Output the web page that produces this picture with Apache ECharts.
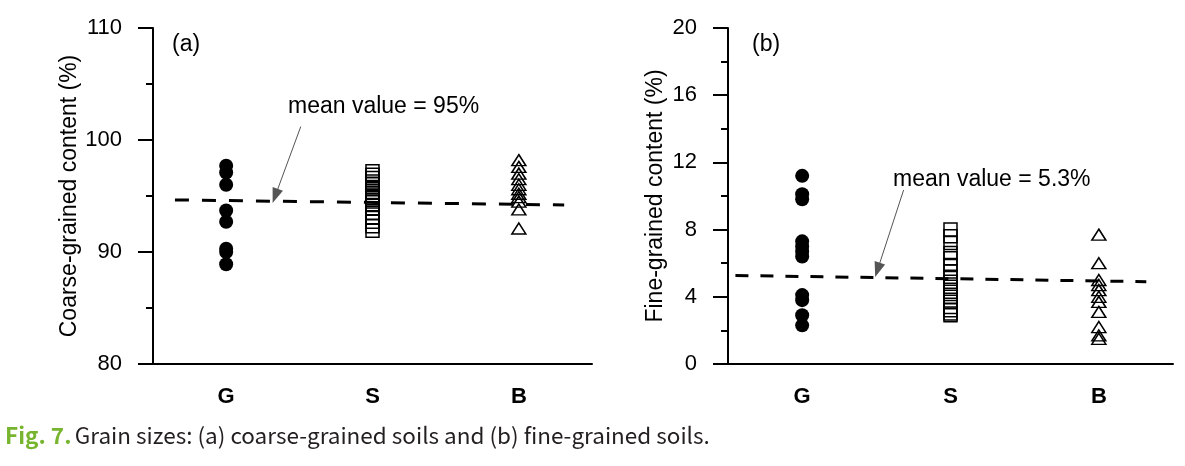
<!DOCTYPE html>
<html>
<head>
<meta charset="utf-8">
<script src="https://cdn.jsdelivr.net/npm/echarts@6/dist/echarts.min.js"></script>
<style>
html,body{margin:0;padding:0;background:#fff;}
#chart{width:1185px;height:466px;}
</style>
</head>
<body>
<div id="chart"></div>
<script>
// ---- data ----
const categories = ['G', 'S', 'B'];

// (a) coarse-grained content (%)
const coarseG = [97.7, 97.1, 96.0, 93.7, 92.7, 90.3, 90.0, 88.9];
const coarseS = [97.2, 96.9, 96.6, 96.3, 96.1, 95.8, 95.6, 95.3, 95.0, 94.8, 94.5, 94.2, 93.9, 93.5, 93.1, 92.7, 92.3, 91.9];
const coarseB = [98.2, 97.6, 97.0, 96.5, 96.0, 95.6, 95.2, 94.9, 94.5, 93.8, 92.1];
const coarseMeanLine = [[-0.35, 94.65], [2.31, 94.2]];
const coarseArrow = [[0.51, 101.2], [0.335, 95.0]];

// (b) fine-grained content (%)
const fineG = [11.2, 10.1, 9.8, 7.3, 7.0, 6.7, 6.4, 4.1, 3.8, 2.9, 2.3];
const fineS = [8.0, 7.6, 7.2, 6.6, 6.3, 5.9, 5.5, 5.2, 4.9, 4.6, 4.3, 4.0, 3.7, 3.4, 3.2, 3.0, 2.9];
const fineB = [7.7, 6.0, 5.0, 4.7, 4.4, 4.0, 3.7, 3.1, 2.2, 1.7, 1.5];
const fineMeanLine = [[-0.45, 5.27], [2.32, 4.9]];
const fineArrow = [[0.684, 10.36], [0.508, 5.6]];

const yTicksA = {min: 80, max: 110, interval: 10};
const yTicksB = {min: 0, max: 20, interval: 4};

// ---- chart ----
const FONT = 'Liberation Sans, Arial, sans-serif';
const CAPFONT = 'Noto Sans CJK KR, Noto Sans, sans-serif';
const chart = echarts.init(document.getElementById('chart'), null, {renderer: 'canvas'});

function catAxis(gridIndex) {
  return {
    type: 'category', gridIndex, data: categories, boundaryGap: true,
    axisLine: {onZero: false, lineStyle: {color: '#000', width: 2}},
    axisTick: {alignWithLabel: true, length: 7, lineStyle: {color: '#000', width: 2}},
    axisLabel: {color: '#000', fontFamily: FONT, fontSize: 22, fontWeight: 'bold', margin: 22},
    splitLine: {show: false}
  };
}
function hiddenX(gridIndex) {
  return {type: 'value', gridIndex, min: -0.5, max: 2.5, show: false, splitLine: {show: false}};
}
function yAxis(gridIndex, t, name, gap) {
  return {
    type: 'value', gridIndex, min: t.min, max: t.max, interval: t.interval,
    name, nameLocation: 'middle', nameGap: gap,
    nameTextStyle: {color: '#000', fontFamily: FONT, fontSize: 23},
    axisLine: {show: true, onZero: false, lineStyle: {color: '#000', width: 2}},
    axisTick: {show: true, length: 15, lineStyle: {color: '#000', width: 2}},
    minorTick: {show: true, splitNumber: 2, length: 7, lineStyle: {color: '#000', width: 2}},
    axisLabel: {color: '#000', fontFamily: FONT, fontSize: 22, margin: 31},
    splitLine: {show: false}
  };
}
function scatter(xi, yi, cat, vals, symbol, size, filled) {
  return {
    type: 'scatter', xAxisIndex: xi, yAxisIndex: yi,
    data: vals.map(v => [cat, v]),
    symbol, symbolSize: size,
    itemStyle: filled ? {color: '#000', borderWidth: 0, opacity: 1}
                      : {color: 'rgba(0,0,0,0)', borderColor: '#000', borderWidth: 1.5, opacity: 1},
    z: 3
  };
}
function meanLine(xi, yi, pts, arrow, dash) {
  return {
    type: 'line', xAxisIndex: xi, yAxisIndex: yi, data: pts,
    symbol: 'none',
    lineStyle: {color: '#000', width: 3, type: dash},
    z: 4,
    markLine: {
      silent: true, symbol: ['none', 'triangle'], symbolSize: [11, 15],
      lineStyle: {color: '#555', width: 1, type: 'solid'},
      itemStyle: {color: '#000'},
      label: {show: false},
      data: [[{coord: arrow[0], symbol: 'none'}, {coord: arrow[1], itemStyle: {color: '#000'}}]]
    }
  };
}

const option = {
  animation: false,
  backgroundColor: '#fff',
  grid: [
    {left: 153, top: 28, width: 439, height: 336},
    {left: 728, top: 28, width: 445, height: 336}
  ],
  xAxis: [catAxis(0), hiddenX(0), catAxis(1), hiddenX(1)],
  yAxis: [
    yAxis(0, yTicksA, 'Coarse-grained content (%)', 71),
    yAxis(1, yTicksB, 'Fine-grained content (%)', 61)
  ],
  series: [
    scatter(0, 0, 'G', coarseG, 'circle', 14, true),
    scatter(0, 0, 'S', coarseS, 'rect', 13, false),
    scatter(0, 0, 'B', coarseB, 'triangle', [14, 11], false),
    meanLine(1, 0, coarseMeanLine, coarseArrow, [14, 13]),
    scatter(2, 1, 'G', fineG, 'circle', 14, true),
    scatter(2, 1, 'S', fineS, 'rect', 13, false),
    scatter(2, 1, 'B', fineB, 'triangle', [14, 11], false),
    meanLine(3, 1, fineMeanLine, fineArrow, [13, 12])
  ],
  graphic: [
    {type: 'text', left: 172, top: 33, style: {text: '(a)', fontFamily: FONT, fontSize: 23, fill: '#000'}},
    {type: 'text', left: 752, top: 33, style: {text: '(b)', fontFamily: FONT, fontSize: 23, fill: '#000'}},
    {type: 'text', left: 288, top: 95, style: {text: 'mean value = 95%', fontFamily: FONT, fontSize: 23, fill: '#000'}},
    {type: 'text', left: 893, top: 168, style: {text: 'mean value = 5.3%', fontFamily: FONT, fontSize: 23, fill: '#000'}},
    {type: 'text', left: 5, top: 424, style: {
      text: '{g|Fig. 7.} {t|Grain sizes: (a) coarse-grained soils and (b) fine-grained soils.}',
      rich: {
        g: {fill: '#78b52e', fontFamily: CAPFONT, fontSize: 22.5, fontWeight: 'bold'},
        t: {fill: '#231f20', fontFamily: CAPFONT, fontSize: 22.5}
      }
    }}
  ]
};
chart.setOption(option);
</script>
</body>
</html>
